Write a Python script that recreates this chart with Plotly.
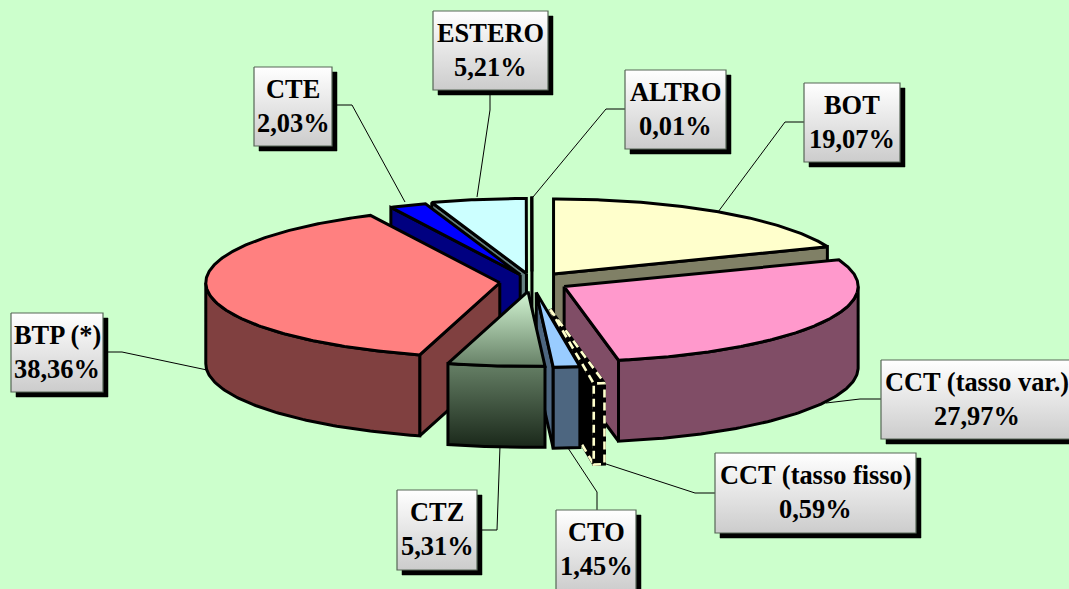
import numpy as np
import plotly.graph_objects as go

# ---- data ----
names = ["BOT", "CCT (tasso var.)", "CCT (tasso fisso)", "CTO", "CTZ", "BTP (*)", "CTE", "ESTERO", "ALTRO"]
shares = [19.07, 27.97, 0.59, 1.45, 5.31, 38.36, 2.03, 5.21, 0.01]
share_text = ["19,07%", "27,97%", "0,59%", "1,45%", "5,31%", "38,36%", "2,03%", "5,21%", "0,01%"]

# ---- style ----
BG = "#CCFFCC"
top_colors = ["#FFFFCC", "#FF99CC", "#000000", "#99CCFF", None, "#FF8080", "#0000FF", "#CCFFFF", "#FFFFFF"]
side_colors = ["#808066", "#804D66", "#000000", "#4D6680", None, "#804040", "#000080", "#668080", "#808080"]
pulls = [0.13, 0.125, 0.37, 0.14, 0.125, 0.11, 0.105, 0.115, 0.14]
draw_order = [0, 8, 7, 6, 5, 1, 2, 3, 4]

# ---- projection ----
CX, CY, RX, RY, DEPTH = 532, 282, 294, 75, 81
LW = 3

# label boxes: x0, y0, x1, y1, and leader polyline
boxes = {
    "BOT": ((804, 83, 900, 162), [(805, 122), (785, 122), (718, 212)]),
    "CCT (tasso var.)": ((881, 360, 1075, 439), [(882, 399), (860, 399), (826, 403)]),
    "CCT (tasso fisso)": ((715, 453, 916, 533), [(715, 493), (695, 493), (600, 462)]),
    "CTO": ((556, 510, 636, 592), [(597, 510), (597, 492), (568, 448)]),
    "CTZ": ((397, 490, 477, 570), [(477, 530), (497, 530), (500, 446)]),
    "BTP (*)": ((11, 313, 103, 392), [(103, 352), (122, 352), (207, 370)]),
    "CTE": ((254, 67, 332, 146), [(332, 105), (352, 105), (405, 202)]),
    "ESTERO": ((433, 11, 548, 90), [(490, 90), (490, 110), (477, 197)]),
    "ALTRO": ((625, 70, 726, 149), [(625, 109), (606, 109), (533, 197)]),
}

fig = go.Figure()


def poly(xs, ys, fill=None, line="#000000", width=LW, grad=None, dash=None):
    kw = dict(x=list(xs), y=list(ys), mode="lines", fill="toself", hoverinfo="skip",
              showlegend=False, line=dict(color=line, width=width, dash=dash))
    if grad is not None:
        kw["fillgradient"] = dict(type="vertical", colorscale=grad)
    else:
        kw["fillcolor"] = fill if fill else "rgba(0,0,0,0)"
    fig.add_trace(go.Scatter(**kw))


def rim(t, ax, ay):
    t = np.radians(t)
    return ax + RX * np.sin(t), ay - RY * np.cos(t)


total = sum(shares)
edges = np.concatenate([[0], np.cumsum(shares)]) / total * 360

# leaders under the pie
for nm in names:
    pts = boxes[nm][1]
    fig.add_trace(go.Scatter(x=[p[0] for p in pts], y=[p[1] for p in pts], mode="lines",
                             line=dict(color="#000000", width=1), hoverinfo="skip", showlegend=False))

for i in draw_order:
    a, b = edges[i], edges[i + 1]
    mid = np.radians((a + b) / 2)
    ax = CX + pulls[i] * RX * np.sin(mid)
    ay = CY - pulls[i] * RY * np.cos(mid)

    layers = []
    # radial faces turned to the viewer
    face_angles = []
    if np.sin(np.radians(b)) > 0:
        face_angles.append(b)
    if np.sin(np.radians(a)) < 0:
        face_angles.append(a)
    for f in face_angles:
        rx, ry = rim(f, ax, ay)
        layers.append(([ax, rx, rx, ax, ax], [ay, ry, ry + DEPTH, ay + DEPTH, ay], "side"))
    # outer wall
    lo, hi = max(a, 90), min(b, 270)
    if hi > lo:
        ts = np.linspace(lo, hi, 80)
        xs, ys = rim(ts, ax, ay)
        layers.append((np.r_[xs, xs[::-1], xs[0]], np.r_[ys, ys[::-1] + DEPTH, ys[0]], "side"))
    # top
    ts = np.linspace(a, b, max(int(b - a) * 2, 3))
    xs, ys = rim(ts, ax, ay)
    layers.append((np.r_[ax, xs, ax], np.r_[ay, ys, ay], "top"))

    for xs, ys, kind in layers:
        if names[i] == "CTZ":
            grad = ([[0, "#668066"], [1, "#D4F7D4"]] if kind == "top"
                    else [[0, "#1A281A"], [1, "#668066"]])
            poly(xs, ys, grad=grad)
        else:
            poly(xs, ys, fill=top_colors[i] if kind == "top" else side_colors[i])
            if names[i] == "CCT (tasso fisso)":
                poly(xs, ys, line="#FFFFCC", width=2.6, dash="8px,5px")

# label boxes
for nm, txt in zip(names, share_text):
    (x0, y0, x1, y1), _ = boxes[nm]
    poly([x0 + 5, x1 + 5, x1 + 5, x0 + 5, x0 + 5], [y0 + 5, y0 + 5, y1 + 5, y1 + 5, y0 + 5],
         fill="#000000", line="#000000", width=0.5)
    poly([x0, x1, x1, x0, x0], [y0, y0, y1, y1, y0], line="#566656", width=1.2,
         grad=[[0, "#CCCCCC"], [1, "#FFFFFF"]])
    for label, yy in ((nm, y0 + 22), (txt, y0 + 56)):
        cx = (x0 + min(x1, 1075)) / 2
        if nm == "CCT (tasso var.)":
            cx = 976.5
        fig.add_annotation(x=cx, y=yy, text=f"<b>{label}</b>", showarrow=False, xanchor="center", yanchor="middle",
                           font=dict(family="Liberation Serif", size=26.4, color="#000000"))

fig.update_layout(width=1069, height=589, margin=dict(l=0, r=0, t=0, b=0),
                  paper_bgcolor=BG, plot_bgcolor=BG, showlegend=False,
                  xaxis=dict(range=[0, 1069], visible=False, fixedrange=True),
                  yaxis=dict(range=[589, 0], visible=False, fixedrange=True))
fig.write_html("out.html", config={"displayModeBar": False},
               post_script="document.body.style.margin='0';document.documentElement.style.overflow='hidden';")
